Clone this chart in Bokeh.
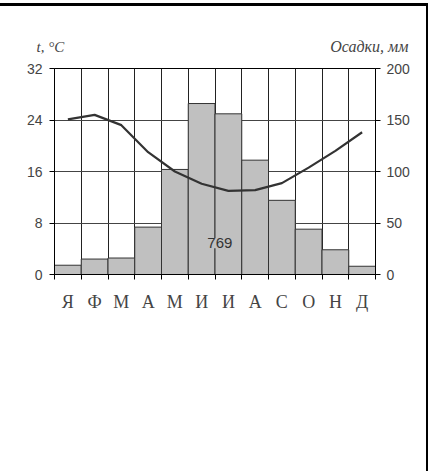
from bokeh.plotting import figure
from bokeh.models import Range1d, LinearAxis, FixedTicker, Label
from bokeh.layouts import column, row
from bokeh.core.properties import value
from bokeh.embed import file_html
from bokeh.resources import INLINE

months = ["Я", "Ф", "М", "А", "М", "И", "И", "А", "С", "О", "Н", "Д"]
precip_mm = [9, 15, 16, 46, 102, 166, 156, 111, 72, 44, 24, 8]
temp_c = [24.1, 24.8, 23.2, 19.0, 16.0, 14.1, 13.0, 13.1, 14.2, 16.6, 19.2, 22.1]
temp_ticks = [0, 8, 16, 24, 32]
precip_ticks = [0, 50, 100, 150, 200]
total_label = "769"
temp_title = "t, °C"
precip_title = "Осадки, мм"

centers = [i + 0.5 for i in range(len(months))]
bounds = list(range(len(months) + 1))

# ---- header with the two axis titles ----
h = figure(width=426, height=50, output_backend="svg", toolbar_location=None,
           x_range=Range1d(0, 426), y_range=Range1d(50, 0),
           x_axis_location=None, y_axis_location=None,
           min_border=0, min_border_left=0, min_border_right=0,
           min_border_top=0, min_border_bottom=0)
h.grid.visible = False
h.outline_line_color = None
h.text(x=[36], y=[40], text=[temp_title], text_font=value("Liberation Serif"),
       text_font_style="italic", text_font_size="15px", text_color="#444444",
       text_align="left", text_baseline="middle")
h.text(x=[408], y=[40], text=[precip_title], text_font=value("Liberation Serif"),
       text_font_style="italic", text_font_size="16px", text_color="#444444",
       text_align="right", text_baseline="middle")

# ---- main chart ----
p = figure(width=426, height=415, output_backend="svg", toolbar_location=None,
           x_range=Range1d(0, 12), y_range=Range1d(0, 32),
           min_border_left=54, min_border_right=51, min_border_top=12, min_border_bottom=197)
p.extra_y_ranges = {"precip": Range1d(0, 200)}

p.outline_line_color = "black"

p.xgrid.ticker = FixedTicker(ticks=bounds)
p.ygrid.ticker = FixedTicker(ticks=temp_ticks)
p.xgrid.grid_line_color = "#222222"
p.ygrid.grid_line_color = "#444444"

p.vbar(x=centers, top=precip_mm, width=1, bottom=0, y_range_name="precip",
       fill_color="#c0c0c0", line_color="#333333", line_width=1)

p.line(x=centers, y=temp_c, line_color="#333333", line_width=2.2)

p.xaxis.ticker = FixedTicker(ticks=centers, minor_ticks=bounds)
p.xaxis.major_label_overrides = {c: m for c, m in zip(centers, months)}
p.xaxis.major_tick_line_color = None
p.xaxis.major_tick_out = 5
p.xaxis.minor_tick_out = 5
p.xaxis.minor_tick_in = 0
p.xaxis.minor_tick_line_color = "black"
p.xaxis.axis_line_color = "black"
p.xaxis.major_label_text_font = "Liberation Serif"
p.xaxis.major_label_text_font_size = "18px"
p.xaxis.major_label_text_color = "#444444"
p.xaxis.major_label_standoff = 12

p.yaxis.ticker = FixedTicker(ticks=temp_ticks)
p.yaxis.major_tick_out = 5
p.yaxis.major_tick_in = 0
p.yaxis.minor_tick_line_color = None
p.yaxis.axis_line_color = "black"
p.yaxis.major_tick_line_color = "black"
p.yaxis.major_label_text_font = "Liberation Sans"
p.yaxis.major_label_text_font_size = "14px"
p.yaxis.major_label_text_color = "#444444"
p.yaxis.major_label_standoff = 7

ry = LinearAxis(y_range_name="precip", ticker=FixedTicker(ticks=precip_ticks))
ry.major_tick_out = 5
ry.major_tick_in = 0
ry.minor_tick_line_color = None
ry.axis_line_color = "black"
ry.major_tick_line_color = "black"
ry.major_label_text_font = "Liberation Sans"
ry.major_label_text_font_size = "14px"
ry.major_label_text_color = "#444444"
ry.major_label_standoff = 6
p.add_layout(ry, "right")

p.add_layout(Label(x=6.18, y=4.85, text=total_label, text_font="Liberation Sans",
                   text_font_size="15px", text_color="#333333", text_align="center",
                   text_baseline="middle", background_fill_color="#c0c0c0"))

layout = column(row(h), p, spacing=0)
layout.styles = {"margin-top": "3px", "border-top": "3px solid black",
                 "border-right": "2px solid black"}

open("out.html", "w").write(file_html(layout, INLINE))
